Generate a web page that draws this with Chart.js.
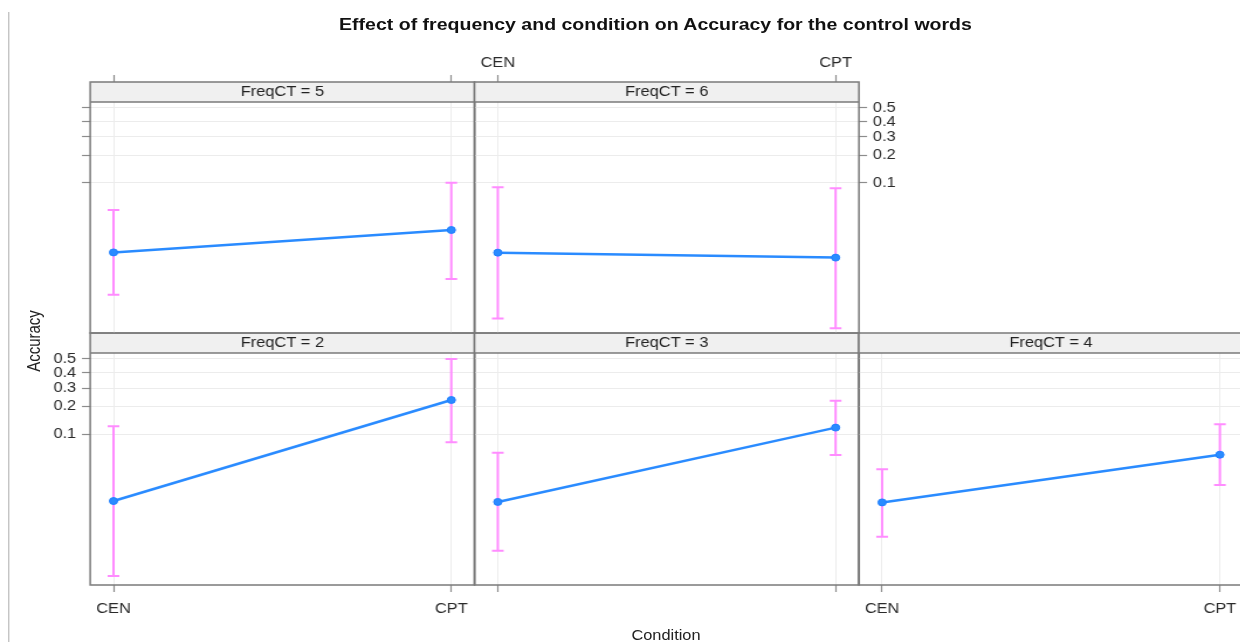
<!DOCTYPE html>
<html>
<head>
<meta charset="utf-8">
<script src="https://cdn.jsdelivr.net/npm/chart.js@4.4.1/dist/chart.umd.min.js"></script>
<style>
  html, body { margin: 0; padding: 0; background: #fff; overflow: hidden; }
  #wrap { position: relative; width: 1240px; height: 642px; overflow: hidden; }
  /* the reference is a little stretched sideways, so the whole page is too */
  #page { position: absolute; left: 0; top: 0; width: 1060px; height: 642px;
          transform: scaleX(1.17); transform-origin: 0 0;
          font-family: "Liberation Sans", Arial, sans-serif; }
  #page canvas { position: absolute; }
  .txt { position: absolute; white-space: nowrap; color: #222; transform: translate(-50%, -50%); }
  #edge { position: absolute; width: 1px; background: #b8b8b8; }
</style>
</head>
<body>
<div id="wrap">
  <div id="page">
    <div id="edge"></div>
    <div class="txt" id="title">Effect of frequency and condition on Accuracy for the control words</div>
    <div class="txt" id="ylab">Accuracy</div>
    <div class="txt" id="xlab">Condition</div>
  </div>
</div>
<script>
// ---- data (probabilities) ----
const panels = ['FreqCT = 2', 'FreqCT = 3', 'FreqCT = 4', 'FreqCT = 5', 'FreqCT = 6'];
const conditions = ['CEN', 'CPT'];
const accCEN   = [0.0156, 0.0152, 0.0150, 0.0143, 0.0142];
const accCPT   = [0.232, 0.119, 0.0577, 0.0272, 0.0123];
const lowerCEN = [0.00178, 0.0037, 0.00557, 0.00418, 0.00208];
const upperCEN = [0.123, 0.061, 0.0385, 0.0479, 0.0891];
const lowerCPT = [0.0809, 0.0573, 0.0247, 0.0066, 0.00157];
const upperCPT = [0.5, 0.2285, 0.1294, 0.1006, 0.0868];
const yTicks = [0.1, 0.2, 0.3, 0.4, 0.5];
const yTickLabels = ['0.1', '0.2', '0.3', '0.4', '0.5'];

// ---- layout ----
const SX = 1.17;
const colL = [90.2, 474.5, 858.8];   // reference px
const colW = 384.4;
const rowTop = [82, 333];
const stripH = 20;
const dataH = [231, 232];
const logitHi = 0.175, logitLo = -6.595;
const XMIN = -0.069, XMAX = 1.069;
const M = { l: 70, r: 70, t: 50, b: 45 };
const FONT = '"Liberation Sans", Arial, sans-serif';

// which axis parts each panel shows (lattice alternating axes)
const panelAxes = [
  { col: 0, row: 1, y: 'labels', x: 'labels', ySide: 'left' },
  { col: 1, row: 1, y: null, x: 'ticks', ySide: 'left' },
  { col: 2, row: 1, y: null, x: 'labels', ySide: 'left' },
  { col: 0, row: 0, y: 'ticks', x: 'ticks', ySide: 'left' },
  { col: 1, row: 0, y: 'labels', x: 'labels', ySide: 'right' }
];

function logit(p) { return Math.log(p / (1 - p)); }

const page = document.getElementById('page');
function place(id, x, y, css) {
  const el = document.getElementById(id);
  el.style.left = (x / SX) + 'px';
  el.style.top = y + 'px';
  Object.assign(el.style, css || {});
}
place('title', 655.5, 24.5, { font: 'bold 16.7px ' + FONT, color: '#111' });
place('xlab', 666, 635, { font: '14px ' + FONT });
place('ylab', 33.6, 341, { font: '15px ' + FONT, transform: 'translate(-50%,-50%) rotate(-90deg)' });
place('edge', 8.7, 12, { height: '630px' });

const panelDecor = {
  id: 'panelDecor',
  beforeDatasetsDraw(chart) {
    const { ctx, chartArea: a } = chart;
    const o = chart.options.plugins.panelDecor;
    ctx.save();
    ctx.fillStyle = '#f0f0f0';
    ctx.fillRect(a.left, a.top, a.right - a.left, stripH);
    ctx.fillStyle = '#222';
    ctx.font = '14px ' + FONT;
    ctx.textAlign = 'center';
    ctx.textBaseline = 'middle';
    ctx.fillText(o.label, (a.left + a.right) / 2, a.top + stripH / 2 + 0.5);

    // confidence bars
    const xs = chart.scales.x, ys = chart.scales.y;
    const ds = chart.data.datasets[0];
    ctx.strokeStyle = '#ff8cff';
    ctx.lineWidth = 2;
    ds.lower.forEach((lo, i) => {
      const px = xs.getPixelForValue(i);
      const y1 = ys.getPixelForValue(logit(lo));
      const y2 = ys.getPixelForValue(logit(ds.upper[i]));
      ctx.beginPath();
      ctx.moveTo(px, y1); ctx.lineTo(px, y2);
      ctx.moveTo(px - 5, y1); ctx.lineTo(px + 5, y1);
      ctx.moveTo(px - 5, y2); ctx.lineTo(px + 5, y2);
      ctx.stroke();
    });
    ctx.restore();
  },
  afterDraw(chart) {
    const { ctx, chartArea: a } = chart;
    ctx.save();
    ctx.strokeStyle = '#7a7a7a';
    ctx.lineWidth = 1.5;
    ctx.strokeRect(a.left, a.top, a.right - a.left, a.bottom - a.top);
    ctx.beginPath();
    ctx.moveTo(a.left, a.top + stripH);
    ctx.lineTo(a.right, a.top + stripH);
    ctx.stroke();
    ctx.restore();
  }
};

panels.forEach((label, k) => {
  const p = panelAxes[k];
  const l = colL[p.col] / SX;
  const w = colW / SX;
  const t = rowTop[p.row];
  const h = stripH + dataH[p.row];
  const cl = Math.round(l - M.l);
  const ct = t - M.t;
  const padL = l - cl;
  const cw = Math.ceil(padL + w + M.r);
  const padR = cw - padL - w;
  const ch = h + M.t + M.b;

  const canvas = document.createElement('canvas');
  canvas.width = cw;
  canvas.height = ch;
  canvas.style.left = cl + 'px';
  canvas.style.top = ct + 'px';
  canvas.style.width = cw + 'px';
  canvas.style.height = ch + 'px';
  page.appendChild(canvas);

  const yMax = logitHi + stripH * (logitHi - logitLo) / dataH[p.row];
  const tickFont = { family: FONT, size: 14 };
  const xTop = p.row === 0;
  const yRight = p.ySide === 'right';

  // each axis takes the whole margin on its side, so its labels are not clipped
  const pad = {
    left: yRight ? padL : 0,
    right: yRight ? 0 : padR,
    top: xTop ? 0 : M.t,
    bottom: xTop ? M.b : 0
  };

  new Chart(canvas, {
    type: 'line',
    data: {
      datasets: [{
        data: [
          { x: 0, y: logit(accCEN[k]) },
          { x: 1, y: logit(accCPT[k]) }
        ],
        lower: [lowerCEN[k], lowerCPT[k]],
        upper: [upperCEN[k], upperCPT[k]],
        borderColor: '#2a8bff',
        backgroundColor: '#2a8bff',
        borderWidth: 2.5,
        pointRadius: 3.5,
        pointBorderWidth: 1,
        pointBackgroundColor: '#2a8bff',
        pointBorderColor: '#1f7fff',
        tension: 0
      }]
    },
    options: {
      responsive: false,
      animation: false,
      events: [],
      layout: { padding: pad },
      plugins: {
        legend: { display: false },
        tooltip: { enabled: false },
        panelDecor: { label: label }
      },
      scales: {
        x: {
          type: 'linear',
          position: xTop ? 'top' : 'bottom',
          min: XMIN, max: XMAX, bounds: 'data',
          afterBuildTicks: s => { s.ticks = conditions.map((c, i) => ({ value: i })); },
          afterFit: s => { s.height = xTop ? M.t : M.b; },
          border: { display: false },
          grid: { color: '#ececec', lineWidth: 1, drawTicks: !!p.x, tickLength: 7, tickColor: '#8c8c8c', tickWidth: 1.2 },
          ticks: {
            display: p.x === 'labels',
            autoSkip: false, maxRotation: 0,
            padding: xTop ? 3 : 8.5,
            color: '#2a2a2a', font: tickFont,
            callback: v => conditions[v]
          }
        },
        y: {
          type: 'linear',
          position: p.ySide,
          min: logitLo, max: yMax, bounds: 'data',
          afterBuildTicks: s => { s.ticks = yTicks.map(v => ({ value: logit(v) })); },
          afterFit: s => { s.width = yRight ? padR : padL; },
          border: { display: false },
          grid: { color: '#ececec', lineWidth: 1, drawTicks: !!p.y, tickLength: 7, tickColor: '#8c8c8c', tickWidth: 1.2 },
          ticks: {
            display: p.y === 'labels',
            autoSkip: false,
            padding: 5,
            color: '#2a2a2a', font: tickFont,
            callback: (v, i) => yTickLabels[i]
          }
        }
      }
    },
    plugins: [panelDecor]
  });
});
</script>
</body>
</html>
